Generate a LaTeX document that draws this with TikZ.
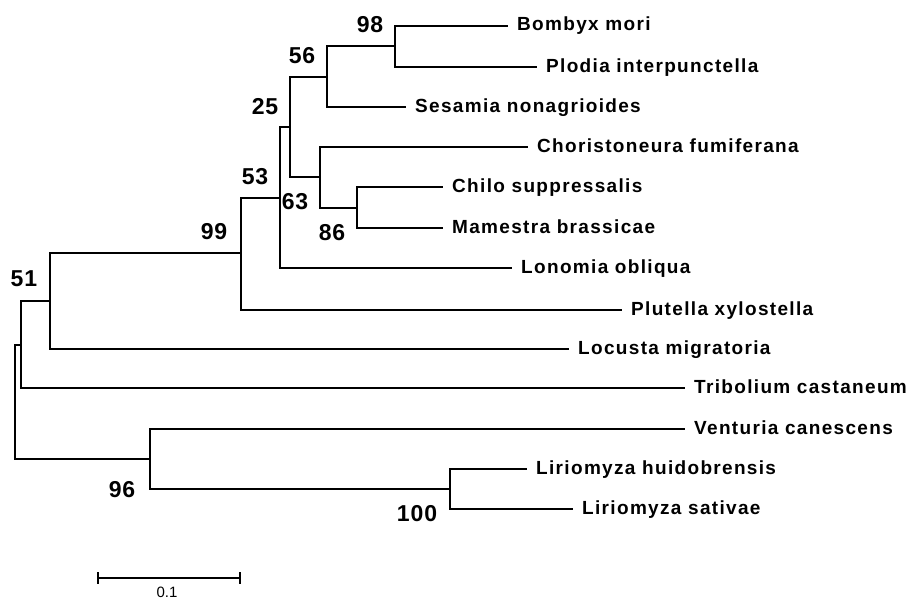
\documentclass[tikz,border=0pt]{standalone}
\usepackage{fontspec}
\setmainfont{Liberation Sans}
\newfontfamily\spfont{Liberation Sans}[LetterSpace=7]
\newfontfamily\bsfont{Liberation Sans}[LetterSpace=4]
\begin{document}
\begin{tikzpicture}[x=1pt,y=-1pt,
  br/.style={line width=2pt},
  sp/.style={anchor=base west,inner sep=0pt,xshift=9pt,yshift=-5pt,
    font=\spfont\bfseries\fontsize{19}{21}\selectfont},
  bs/.style={anchor=center,inner sep=0pt,
    font=\bsfont\bfseries\fontsize{23}{25}\selectfont},
  sc/.style={line width=1.1pt}]
\useasboundingbox (0,0) rectangle (918,602);
% internal nodes
\coordinate (R) at (15,402);
\coordinate (A) at (21,345);
\coordinate (B) at (50,301);
\coordinate (C) at (241,253);
\coordinate (D) at (280,197.5);
\coordinate (E) at (290,127);
\coordinate (F) at (327,77);
\coordinate (G) at (395,46.5);
\coordinate (H) at (320,177);
\coordinate (I) at (357,207.5);
\coordinate (J) at (150,459);
\coordinate (K) at (450,489);
% tips
\coordinate (tBom) at (508,26);
\coordinate (tPlo) at (537,67);
\coordinate (tSes) at (406,107);
\coordinate (tCho) at (528,147);
\coordinate (tChi) at (443,187);
\coordinate (tMam) at (443,228);
\coordinate (tLon) at (512,268);
\coordinate (tPlu) at (622,310);
\coordinate (tLoc) at (569,349);
\coordinate (tTri) at (685,388);
\coordinate (tVen) at (685,429);
\coordinate (tLhu) at (527,469);
\coordinate (tLsa) at (573,509);
% branches
\draw[br] (R) |- (A);
\draw[br] (R) |- (J);
\draw[br] (A) |- (B);
\draw[br] (A) |- (tTri);
\draw[br] (B) |- (C);
\draw[br] (B) |- (tLoc);
\draw[br] (C) |- (D);
\draw[br] (C) |- (tPlu);
\draw[br] (D) |- (E);
\draw[br] (D) |- (tLon);
\draw[br] (E) |- (F);
\draw[br] (E) |- (H);
\draw[br] (F) |- (G);
\draw[br] (F) |- (tSes);
\draw[br] (G) |- (tBom);
\draw[br] (G) |- (tPlo);
\draw[br] (H) |- (tCho);
\draw[br] (H) |- (I);
\draw[br] (I) |- (tChi);
\draw[br] (I) |- (tMam);
\draw[br] (J) |- (tVen);
\draw[br] (J) |- (K);
\draw[br] (K) |- (tLhu);
\draw[br] (K) |- (tLsa);
% species labels
\node[sp] (lBom) at (tBom) {Bombyx mori};
\node[sp] (lPlo) at (tPlo) {Plodia interpunctella};
\node[sp] (lSes) at (tSes) {Sesamia nonagrioides};
\node[sp] (lCho) at (tCho) {Choristoneura fumiferana};
\node[sp] (lChi) at (tChi) {Chilo suppressalis};
\node[sp] (lMam) at (tMam) {Mamestra brassicae};
\node[sp] (lLon) at (tLon) {Lonomia obliqua};
\node[sp] (lPlu) at (tPlu) {Plutella xylostella};
\node[sp] (lLoc) at (tLoc) {Locusta migratoria};
\node[sp] (lTri) at (tTri) {Tribolium castaneum};
\node[sp] (lVen) at (tVen) {Venturia canescens};
\node[sp] (lLhu) at (tLhu) {Liriomyza huidobrensis};
\node[sp] (lLsa) at (tLsa) {Liriomyza sativae};
% bootstrap values
\node[bs] (b98) at (370,25) {98};
\node[bs] (b56) at (302,56) {56};
\node[bs] (b25) at (265,107) {25};
\node[bs] (b53) at (255,177) {53};
\node[bs] (b63) at (295,202) {63};
\node[bs] (b86) at (332,233) {86};
\node[bs] (b99) at (214,232) {99};
\node[bs] (b51) at (24,279) {51};
\node[bs] (b96) at (122,490) {96};
\node[bs] (b100) at (417,514) {100};
% scale bar
\coordinate (sL) at (98,578);
\coordinate (sR) at (240,578);
\draw[sc] (sL) -- (sR);
\draw[sc] ([yshift=6pt]sL) -- ([yshift=-6pt]sL);
\draw[sc] ([yshift=6pt]sR) -- ([yshift=-6pt]sR);
\node[anchor=north,inner sep=0pt,font=\fontsize{15}{16}\selectfont] (sT) at (167,587) {0.1};
\end{tikzpicture}
\end{document}
